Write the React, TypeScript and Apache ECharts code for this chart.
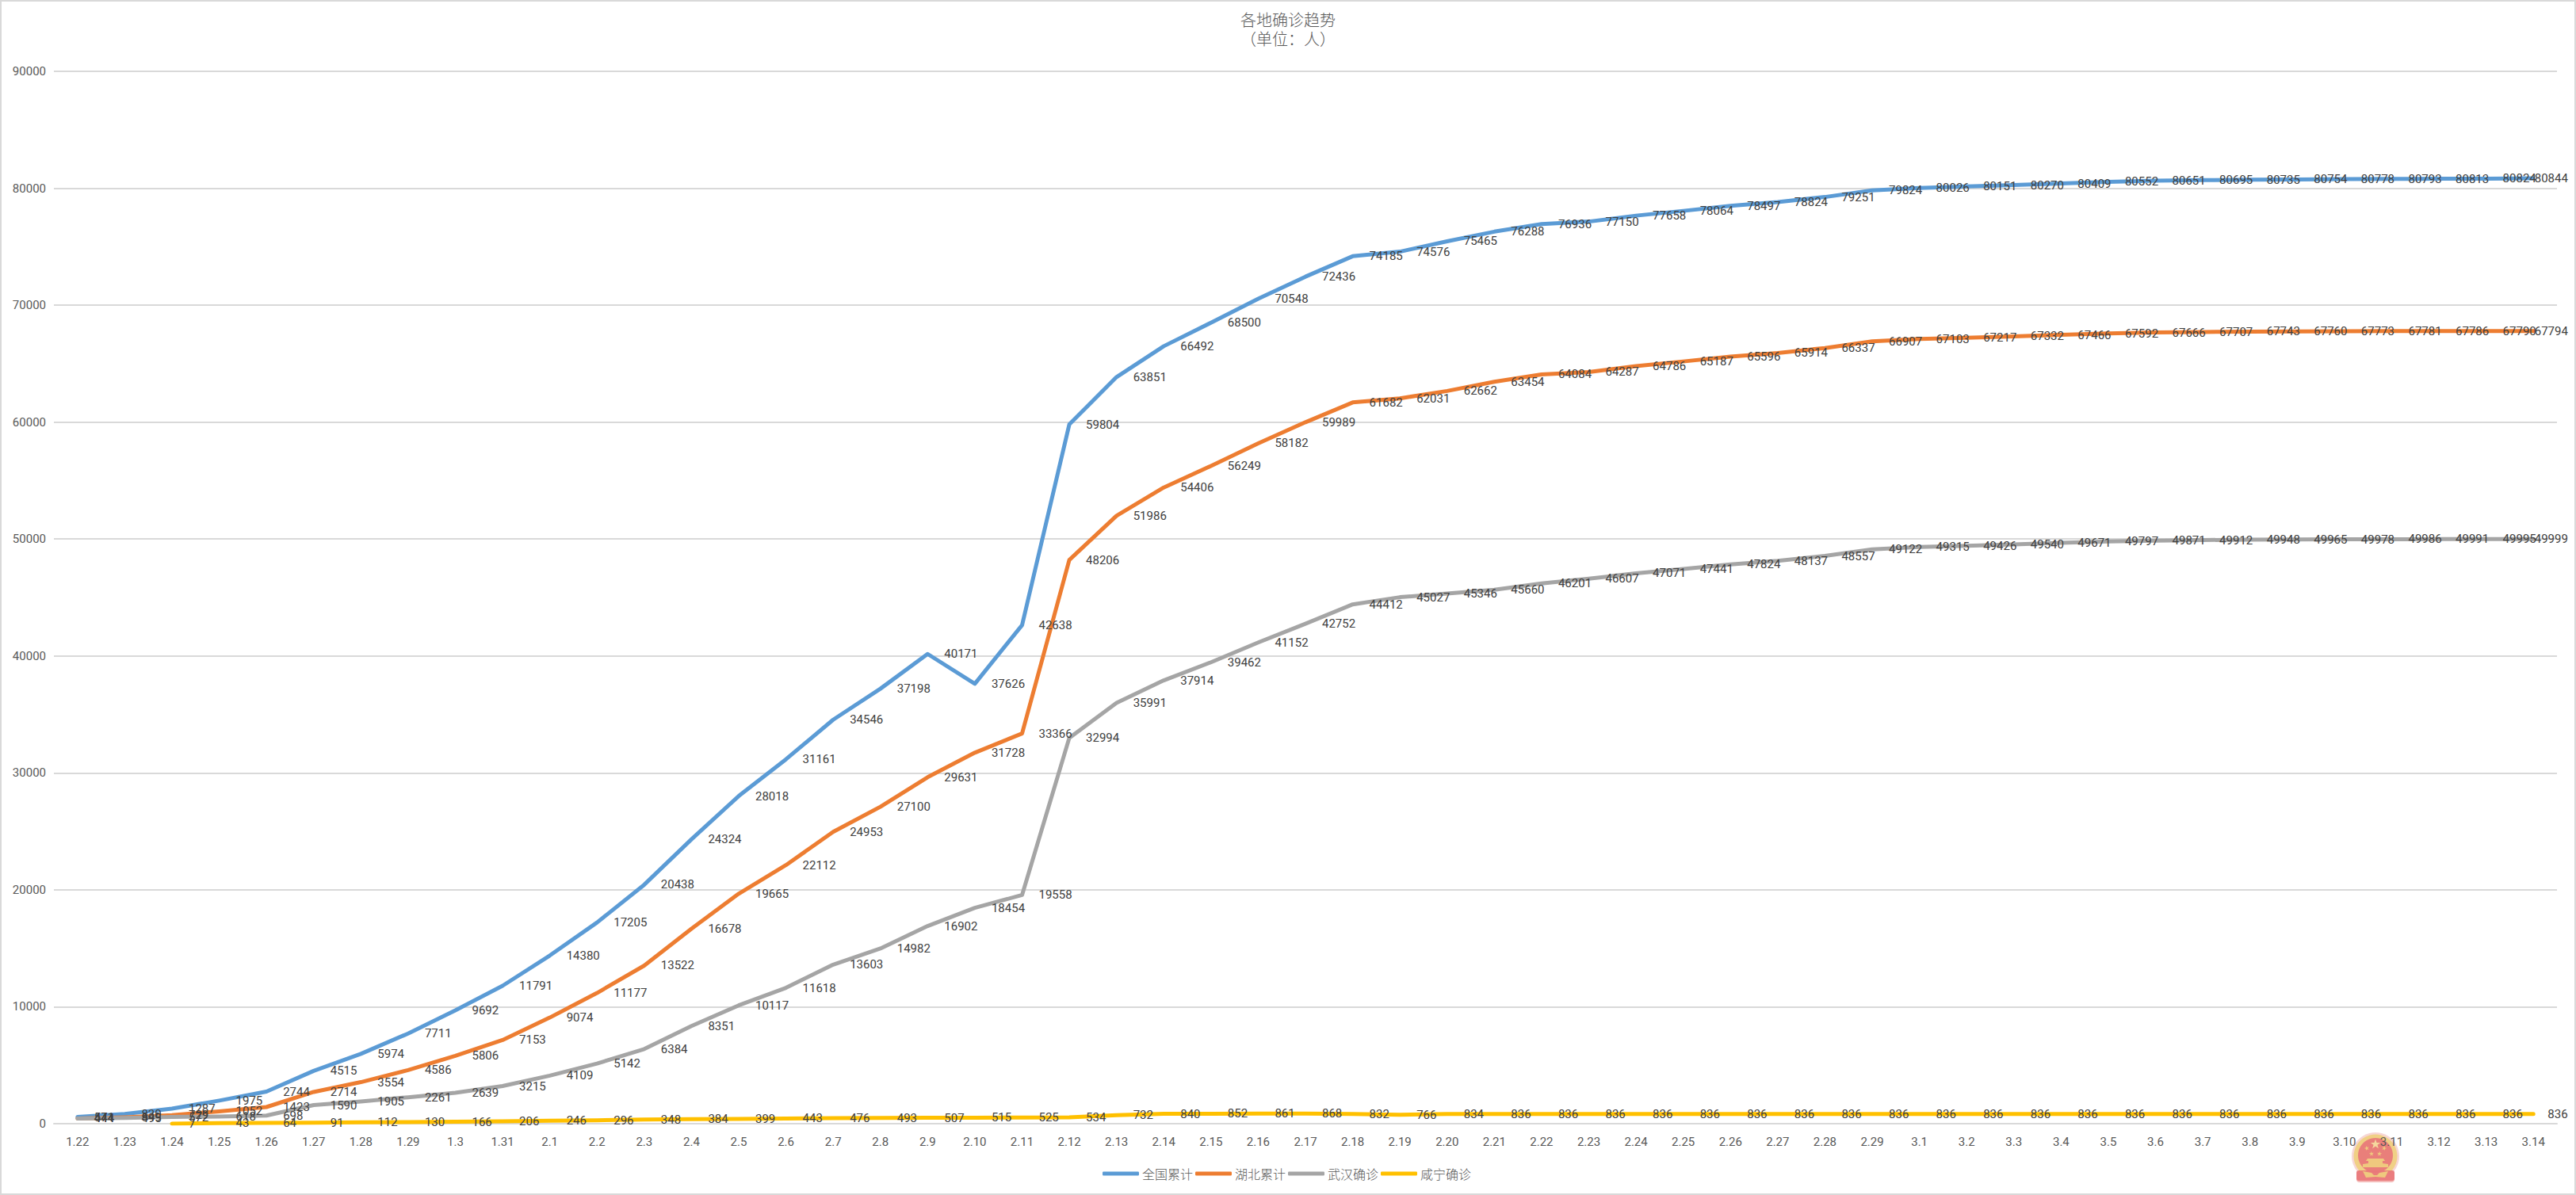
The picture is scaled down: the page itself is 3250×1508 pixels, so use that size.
import React, { useEffect, useRef } from "react";
import * as echarts from "echarts";

const categories = [
  "1.22","1.23","1.24","1.25","1.26","1.27","1.28","1.29","1.3","1.31",
  "2.1","2.2","2.3","2.4","2.5","2.6","2.7","2.8","2.9","2.10","2.11","2.12","2.13","2.14","2.15","2.16","2.17","2.18","2.19","2.20","2.21","2.22","2.23","2.24","2.25","2.26","2.27","2.28","2.29",
  "3.1","3.2","3.3","3.4","3.5","3.6","3.7","3.8","3.9","3.10","3.11","3.12","3.13","3.14",
];
const national = [571,830,1287,1975,2744,4515,5974,7711,9692,11791,14380,17205,20438,24324,28018,31161,34546,37198,40171,37626,42638,59804,63851,66492,68500,70548,72436,74185,74576,75465,76288,76936,77150,77658,78064,78497,78824,79251,79824,80026,80151,80270,80409,80552,80651,80695,80735,80754,80778,80793,80813,80824,80844];
const hubei = [444,549,729,1052,1423,2714,3554,4586,5806,7153,9074,11177,13522,16678,19665,22112,24953,27100,29631,31728,33366,48206,51986,54406,56249,58182,59989,61682,62031,62662,63454,64084,64287,64786,65187,65596,65914,66337,66907,67103,67217,67332,67466,67592,67666,67707,67743,67760,67773,67781,67786,67790,67794];
const wuhan = [444,495,572,618,698,1590,1905,2261,2639,3215,4109,5142,6384,8351,10117,11618,13603,14982,16902,18454,19558,32994,35991,37914,39462,41152,42752,44412,45027,45346,45660,46201,46607,47071,47441,47824,48137,48557,49122,49315,49426,49540,49671,49797,49871,49912,49948,49965,49978,49986,49991,49995,49999];
const xianning = [null,null,7,43,64,91,112,130,166,206,246,296,348,384,399,443,476,493,507,515,525,534,732,840,852,861,868,832,766,834,836,836,836,836,836,836,836,836,836,836,836,836,836,836,836,836,836,836,836,836,836,836,836];

const seriesNames = ["全国累计", "湖北累计", "武汉确诊", "咸宁确诊"];
const seriesColors = ["#5B9BD5", "#ED7D31", "#A5A5A5", "#FFC000"];
const seriesValues = [national, hubei, wuhan, xianning];

const TEXT = "#404040";
const AXIS_TEXT = "#595959";
const GRID = "#D9D9D9";
const NUM_FONT = "Roboto";

function star(cx: number, cy: number, r: number, rot = 0) {
  const pts: number[][] = [];
  for (let i = 0; i < 10; i++) {
    const rr = i % 2 === 0 ? r : r * 0.4;
    const a = -Math.PI / 2 + rot + (i * Math.PI) / 5;
    pts.push([cx + rr * Math.cos(a), cy + rr * Math.sin(a)]);
  }
  return pts;
}

const RED = "#E8777A";
const GOLD = "#EFCF7E";

function emblem() {
  const cx = 2997;
  const cy = 1459;
  const shapes: any[] = [
    { type: "circle", shape: { cx, cy, r: 30 }, style: { fill: "#F6D3D0" } },
    { type: "rect", shape: { x: cx - 24, y: cy + 18, width: 48, height: 15, r: 4 }, style: { fill: "#F3B4B2" } },
    { type: "circle", shape: { cx, cy, r: 27.5 }, style: { fill: GOLD } },
    { type: "circle", shape: { cx, cy: cy - 1, r: 22 }, style: { fill: RED } },
    { type: "polygon", shape: { points: star(cx, cy - 15, 6.5) }, style: { fill: "#F5E0A0" } },
    { type: "polygon", shape: { points: star(cx - 11, cy - 10, 3.2, -0.3) }, style: { fill: GOLD } },
    { type: "polygon", shape: { points: star(cx + 11, cy - 10, 3.2, 0.3) }, style: { fill: GOLD } },
    { type: "polygon", shape: { points: star(cx - 5, cy - 3, 3.2, -0.1) }, style: { fill: GOLD } },
    { type: "polygon", shape: { points: star(cx + 5, cy - 3, 3.2, 0.1) }, style: { fill: GOLD } },
    { type: "polygon", shape: { points: [[cx - 10, cy + 3], [cx + 10, cy + 3], [cx + 12, cy + 6], [cx + 9, cy + 6], [cx + 9, cy + 9], [cx + 16, cy + 10], [cx + 16, cy + 14], [cx - 16, cy + 14], [cx - 16, cy + 10], [cx - 9, cy + 9], [cx - 9, cy + 6], [cx - 12, cy + 6]] }, style: { fill: GOLD } },
    { type: "rect", shape: { x: cx - 24, y: cy + 18, width: 48, height: 13, r: 3 }, style: { fill: RED } },
    { type: "polygon", shape: { points: [[cx - 16, cy + 19], [cx - 5, cy + 21], [cx - 2, cy + 24], [cx + 2, cy + 24], [cx + 5, cy + 21], [cx + 16, cy + 19], [cx + 12, cy + 27], [cx, cy + 26], [cx - 12, cy + 27]] }, style: { fill: GOLD } },
  ];
  return { type: "group", z: 100, silent: true, children: shapes.map((s) => ({ ...s, style: { ...s.style, opacity: 0.92 } })) };
}

export default function App() {
  const ref = useRef<HTMLDivElement>(null);
  useEffect(() => {
    const chart = echarts.init(ref.current!, undefined, { renderer: "svg" });
    chart.setOption({
      animation: false,
      backgroundColor: "#fff",
      title: {
        text: "各地确诊趋势\n（单位：人）",
        left: "center",
        top: 7,
        textStyle: {
          fontFamily: "Noto Sans CJK SC",
          fontSize: 20,
          fontWeight: 300,
          lineHeight: 24,
          color: AXIS_TEXT,
        },
      },
      legend: {
        data: seriesNames.map((name) => ({ name })),
        left: 1386,
        top: 1468,
        itemWidth: 46,
        itemHeight: 5,
        itemGap: 3,
        icon: "roundRect",
        textStyle: { fontFamily: "Noto Sans CJK SC", fontSize: 16, fontWeight: 300, color: AXIS_TEXT, padding: [0, 0, 0, -1] },
      },
      grid: { left: 68, right: 24, top: 90, bottom: 90, containLabel: false },
      xAxis: {
        type: "category",
        data: categories,
        boundaryGap: true,
        axisTick: { show: false },
        axisLine: { lineStyle: { color: GRID, width: 2 } },
        axisLabel: { interval: 0, margin: 15, fontFamily: NUM_FONT, fontSize: 15, color: AXIS_TEXT },
      },
      yAxis: {
        type: "value",
        min: 0,
        max: 90000,
        interval: 10000,
        axisLine: { show: false },
        axisTick: { show: false },
        splitLine: { lineStyle: { color: GRID, width: 2 } },
        axisLabel: {
          margin: 10,
          fontFamily: NUM_FONT,
          fontSize: 15,
          color: AXIS_TEXT,
          formatter: (v: number) => String(v),
        },
      },
      series: seriesNames.map((name, i) => ({
        name,
        type: "line",
        symbol: "circle",
        symbolSize: 0,
        showSymbol: true,
        showAllSymbol: true,
        smooth: false,
        connectNulls: false,
        itemStyle: { color: seriesColors[i] },
        lineStyle: { color: seriesColors[i], width: 5, cap: "round", join: "round" },
        label: {
          show: true,
          position: "right",
          distance: 21,
          fontFamily: NUM_FONT,
          fontSize: 15,
          color: TEXT,
          formatter: (p: any) => String(p.value),
        },
        data: seriesValues[i].map((v, k) =>
          k === categories.length - 1
            ? { value: v, label: { distance: 43 - 8.3 * String(v).length } }
            : { value: v }
        ),
      })),
      graphic: [
        {
          type: "rect",
          silent: true,
          z: -1,
          shape: { x: 1, y: 1, width: 3248, height: 1506 },
          style: { fill: "none", stroke: GRID, lineWidth: 2 },
        },
        emblem(),
      ],
    });
    return () => chart.dispose();
  }, []);
  return <div ref={ref} style={{ position: "absolute", left: 0, top: 0, width: 3250, height: 1508 }} />;
}
